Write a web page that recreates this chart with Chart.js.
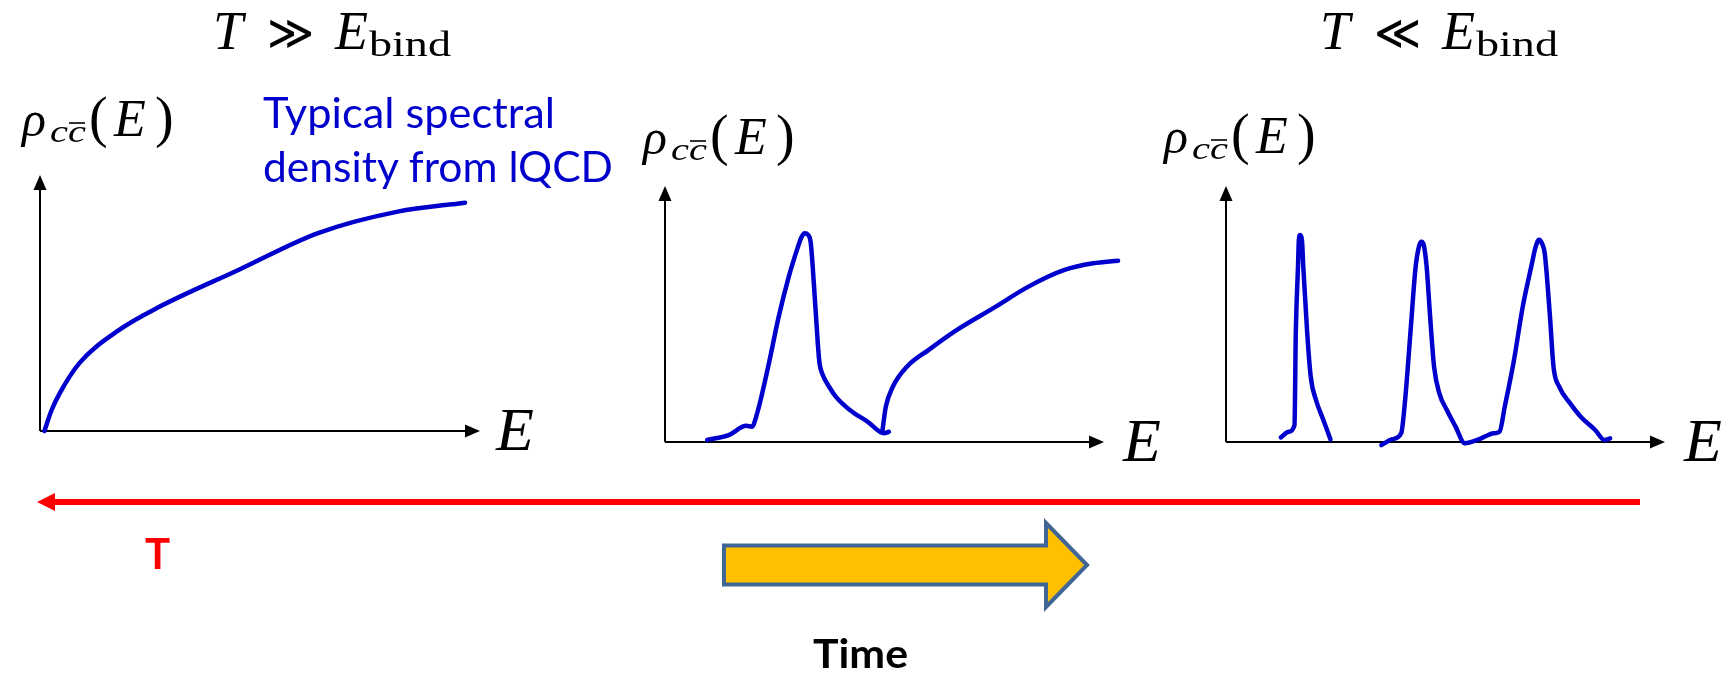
<!DOCTYPE html>
<html>
<head>
<meta charset="utf-8">
<script src="https://cdn.jsdelivr.net/npm/chart.js@4.4.1/dist/chart.umd.min.js"></script>
<style>
  html, body { margin:0; padding:0; background:#fff; }
  body { width:1729px; height:674px; position:relative; overflow:hidden; }
  canvas { position:absolute; }
  svg { position:absolute; left:0; top:0; }
  .m { font-family:"Liberation Serif","DejaVu Serif",serif; fill:#000; }
  .i { font-style:italic; }
  .s { font-family:Lato,"Open Sans",sans-serif; }
</style>
</head>
<body>
<script>
// ---------- DATA (E in axis units 0..10, rho in axis units 0..10) ----------
// Panel 1: T >> E_bind, continuum only
const p1ContE   = [0.1, 0.26, 0.45, 0.9, 1.8, 2.7, 4.51, 6.32, 8.13, 9.66];
const p1ContRho = [0.0, 0.8, 1.48, 2.66, 3.95, 4.84, 6.29, 7.73, 8.57, 8.92];

// Panel 2: one bound-state peak + continuum
const p2PeakE   = [0.96, 1.45, 1.85, 1.98, 2.1, 2.35, 2.59, 2.82, 3.03, 3.1, 3.18, 3.26, 3.32, 3.39, 3.48, 3.52, 3.58, 3.76, 3.89, 4.21, 4.62, 4.99, 5.1];
const p2PeakRho = [0.08, 0.27, 0.63, 0.6, 1.13, 2.94, 4.89, 6.46, 7.63, 7.97, 8.15, 8.09, 7.77, 6.21, 3.87, 3.07, 2.68, 2.1, 1.77, 1.25, 0.79, 0.34, 0.4];
const p2ContE   = [4.95, 5.03, 5.19, 5.51, 6.0, 6.65, 7.47, 8.28, 9.1, 9.75, 10.32];
const p2ContRho = [0.4, 1.38, 2.16, 2.94, 3.59, 4.38, 5.22, 6.07, 6.72, 6.98, 7.08];

// Panel 3: T << E_bind, three narrow peaks
const p3Peak1E   = [1.25, 1.43, 1.56, 1.59, 1.64, 1.66, 1.69, 1.73, 1.76, 1.85, 1.93, 2.05, 2.22, 2.38];
const p3Peak1Rho = [0.18, 0.4, 0.66, 4.26, 6.85, 7.89, 8.09, 7.89, 6.85, 4.24, 2.55, 1.64, 0.85, 0.1];
const p3Peak23E   = [3.54, 3.79, 3.99, 4.08, 4.2, 4.32, 4.4, 4.45, 4.51, 4.57, 4.65, 4.74, 4.86, 5.03, 5.23, 5.44, 5.77, 6.1, 6.23, 6.35, 6.56, 6.76, 6.97, 7.05, 7.13, 7.2, 7.26, 7.38, 7.46, 7.59, 7.84, 8.08, 8.41, 8.62, 8.75];
const p3Peak23Rho = [-0.12, 0.11, 0.34, 1.64, 4.25, 6.85, 7.66, 7.82, 7.66, 6.85, 4.9, 2.94, 1.9, 1.25, 0.6, -0.05, 0.11, 0.34, 0.4, 1.38, 3.2, 5.29, 6.98, 7.6, 7.9, 7.75, 7.37, 4.89, 2.94, 2.16, 1.51, 0.99, 0.47, 0.08, 0.14];

// axis ranges (in axis units)
const axisMin = 0, axisMax = 10;

// ---------- LAYOUT ----------
const panels = [
  { ox: 40,   oy: 431, tipX: 480,  tipY: 175, series: [[p1ContE, p1ContRho]] },
  { ox: 665,  oy: 442, tipX: 1104, tipY: 186, series: [[p2PeakE, p2PeakRho], [p2ContE, p2ContRho]] },
  { ox: 1226, oy: 442, tipX: 1665, tipY: 186, series: [[p3Peak1E, p3Peak1Rho], [p3Peak23E, p3Peak23Rho]] }
];
const pad = { left: 12, right: 42, top: 12, bottom: 16 };

const axesPlugin = {
  id: 'arrowAxes',
  beforeDatasetsDraw(chart) {
    const { ctx, scales: { x, y } } = chart;
    const x0 = x.getPixelForValue(axisMin), x1 = x.getPixelForValue(axisMax);
    const y0 = y.getPixelForValue(axisMin), y1 = y.getPixelForValue(axisMax);
    const L = 15, H = 6.5;
    ctx.save();
    ctx.strokeStyle = '#000'; ctx.fillStyle = '#000'; ctx.lineWidth = 2;
    ctx.beginPath();
    ctx.moveTo(x0, y0); ctx.lineTo(x1 - L + 1, y0);
    ctx.moveTo(x0, y0); ctx.lineTo(x0, y1 + L - 1);
    ctx.stroke();
    ctx.beginPath();
    ctx.moveTo(x1, y0); ctx.lineTo(x1 - L, y0 - H); ctx.lineTo(x1 - L, y0 + H); ctx.closePath(); ctx.fill();
    ctx.beginPath();
    ctx.moveTo(x0, y1); ctx.lineTo(x0 - H, y1 + L); ctx.lineTo(x0 + H, y1 + L); ctx.closePath(); ctx.fill();
    ctx.restore();
  }
};

panels.forEach(p => {
  const c = document.createElement('canvas');
  const W = (p.tipX - p.ox) + pad.left + pad.right;
  const H = (p.oy - p.tipY) + pad.top + pad.bottom;
  c.width = W; c.height = H;
  c.style.left = (p.ox - pad.left) + 'px';
  c.style.top = (p.tipY - pad.top) + 'px';
  c.style.width = W + 'px'; c.style.height = H + 'px';
  document.body.appendChild(c);
  new Chart(c, {
    type: 'line',
    data: {
      datasets: p.series.map(([E, R]) => ({
        data: E.map((e, i) => ({ x: e, y: R[i] })),
        borderColor: '#0000CC',
        borderWidth: 4.5,
        pointRadius: 0,
        fill: false,
        cubicInterpolationMode: 'monotone',
        borderCapStyle: 'round',
        borderJoinStyle: 'round',
        clip: false
      }))
    },
    options: {
      responsive: false,
      animation: false,
      events: [],
      devicePixelRatio: 1,
      layout: { padding: pad },
      plugins: { legend: { display: false }, tooltip: { enabled: false } },
      scales: {
        x: { type: 'linear', min: axisMin, max: axisMax, display: false },
        y: { type: 'linear', min: axisMin, max: axisMax, display: false }
      }
    },
    plugins: [axesPlugin]
  });
});

// ---------- TEXT & DECORATION (SVG) ----------
function rhoLabel(L, B) {
  return `
  <text class="m i" x="${L}" y="${B}" font-size="50">ρ</text>
  <text class="m i" x="${L + 28}" y="${B + 6}" font-size="32" textLength="36" lengthAdjust="spacingAndGlyphs">cc</text>
  <line x1="${L + 47}" x2="${L + 63}" y1="${B - 13}" y2="${B - 13}" stroke="#000" stroke-width="1.6"/>
  <text class="m" x="${L + 67}" y="${B}" font-size="56">(</text>
  <text class="m i" x="${L + 92}" y="${B}" font-size="52">E</text>
  <text class="m" x="${L + 133}" y="${B}" font-size="56">)</text>`;
}
function title(L, rel) {
  return `
  <text class="m i" x="${L}" y="49" font-size="54">T</text>
  <text x="${L + 54}" y="49" font-size="48" font-family="DejaVu Serif" textLength="47" lengthAdjust="spacingAndGlyphs">${rel}</text>
  <text class="m i" x="${L + 122}" y="49" font-size="54">E</text>
  <text class="m" x="${L + 156}" y="56" font-size="36" textLength="82" lengthAdjust="spacingAndGlyphs">bind</text>`;
}

const svg = `
<svg width="1729" height="674" xmlns="http://www.w3.org/2000/svg">
  ${title(213, '≫')}
  ${title(1320, '≪')}
  ${rhoLabel(22, 136)}
  ${rhoLabel(643, 154)}
  ${rhoLabel(1164, 153)}
  <text class="m i" x="496" y="450" font-size="62">E</text>
  <text class="m i" x="1123" y="461" font-size="62">E</text>
  <text class="m i" x="1684" y="461" font-size="62">E</text>
  <text class="s" x="263" y="128" font-size="42" fill="#0000CC" textLength="292" lengthAdjust="spacingAndGlyphs">Typical spectral</text>
  <text class="s" x="263" y="182" font-size="42" fill="#0000CC" textLength="350" lengthAdjust="spacingAndGlyphs">density from lQCD</text>
  <line x1="53" y1="502" x2="1640" y2="502" stroke="#FF0000" stroke-width="6"/>
  <polygon points="37,502 55,493 55,511" fill="#FF0000"/>
  <text class="s" x="145" y="569" font-size="42" font-weight="bold" fill="#FF0000">T</text>
  <polygon points="724,545.5 1046,545.5 1046,523 1087,565 1046,607 1046,584.5 724,584.5" fill="#FFC000" stroke="#3F6694" stroke-width="4" stroke-linejoin="miter"/>
  <text class="s" x="813" y="668" font-size="40" font-weight="bold" fill="#000" textLength="95" lengthAdjust="spacingAndGlyphs">Time</text>
</svg>`;
document.body.insertAdjacentHTML('beforeend', svg);
</script>
</body>
</html>
